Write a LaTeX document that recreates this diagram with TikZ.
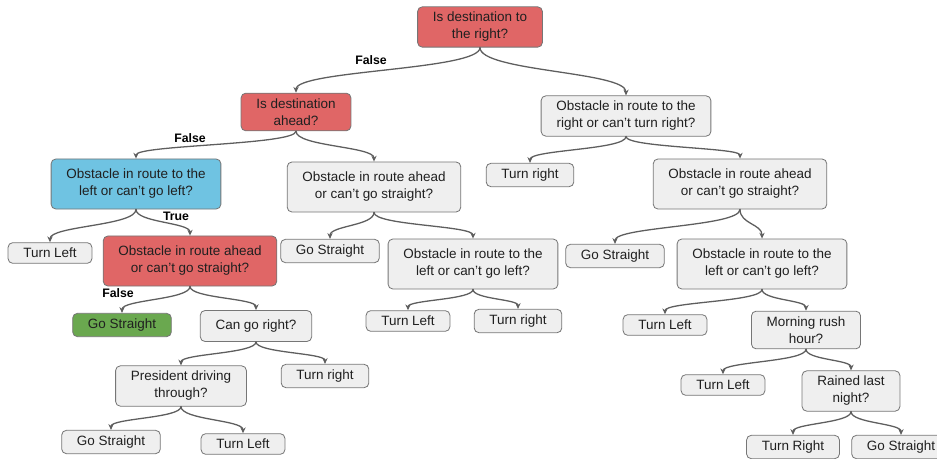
\documentclass[tikz,border=0pt]{standalone}
\usepackage{fontspec}
\setmainfont{Liberation Sans}
\usetikzlibrary{arrows.meta,calc}
\definecolor{boxred}{HTML}{E06666}
\definecolor{boxblue}{HTML}{6FC3E2}
\definecolor{boxgreen}{HTML}{6AA84F}
\definecolor{boxgray}{HTML}{EFEFEF}
\definecolor{boxline}{HTML}{767676}
\definecolor{linkgray}{HTML}{5E5E5E}
\definecolor{txt}{HTML}{202020}
\begin{document}
\begin{tikzpicture}[x=0.03cm, y=-0.03cm, line join=round, line cap=round, >={Stealth[length=5pt,width=4.5pt]},
	box/.style={draw=boxline, fill=boxgray, rounded corners=4pt, line width=0.7pt, align=center, inner xsep=13pt, inner ysep=4.6pt, text=txt, font=\fontsize{11.5}{14.5}\selectfont},
	tall/.style={box, minimum height=1.5cm},
	redbox/.style={fill=boxred},
	bluebox/.style={fill=boxblue},
	greenbox/.style={fill=boxgreen},
	link/.style={->, draw=linkgray, line width=1.1pt, to path={let \p1=(\tikztostart), \p2=(\tikztotarget), \p3=($(\tikztostart)!0.5!(\tikztotarget)$) in .. controls (\x1,\y3) and (\x2,\y3) .. (\tikztotarget) \tikztonodes}},
	tag/.style={text=black, font=\fontsize{10.5}{12}\selectfont\bfseries}]
	\useasboundingbox (0,0) rectangle (937,459);
	\node[box, redbox] (root) at (480,27) {Is destination to\\the right?};
	\node[box, redbox] (ahead) at (296,112) {Is destination\\ahead?};
	\node[box] (rightobs) at (626,116) {Obstacle in route to the\\right or can’t turn right?};
	\node[tall, bluebox] (leftobs) at (136,184) {Obstacle in route to the\\left or can’t go left?};
	\node[tall] (aheadobs) at (374,187) {Obstacle in route ahead\\or can’t go straight?};
	\node[box] (turnRa) at (530,175) {Turn right};
	\node[tall] (aheadobsR) at (740,184) {Obstacle in route ahead\\or can’t go straight?};
	\node[box] (turnLa) at (50,253) {Turn Left};
	\node[tall, redbox] (aheadobsL) at (190,261) {Obstacle in route ahead\\or can’t go straight?};
	\node[box] (goSa) at (330,251) {Go Straight};
	\node[tall] (leftobsM) at (473,264) {Obstacle in route to the\\left or can’t go left?};
	\node[box] (goSb) at (615,256) {Go Straight};
	\node[tall] (leftobsR) at (762,264) {Obstacle in route to the\\left or can’t go left?};
	\node[box, greenbox] (goGreen) at (122,325) {Go Straight};
	\node[box, minimum height=0.93cm] (canright) at (256,326) {Can go right?};
	\node[box] (turnLb) at (408,321) {Turn Left};
	\node[box] (turnRb) at (518,321) {Turn right};
	\node[box] (turnLc) at (665,325) {Turn Left};
	\node[box] (rush) at (806,330) {Morning rush\\hour?};
	\node[box] (president) at (181,386) {President driving\\through?};
	\node[box] (turnRc) at (325,376) {Turn right};
	\node[box] (turnLd) at (723,385) {Turn Left};
	\node[box] (rained) at (851,391) {Rained last\\night?};
	\node[box] (goSc) at (111,442) {Go Straight};
	\node[box] (turnLe) at (243,444) {Turn Left};
	\node[box] (turnRd) at (793,447) {Turn Right};
	\node[box] (goSd) at (901,447) {Go Straight};
	\draw[link] (root.south) to (ahead.north);
	\draw[link] (root.south) to (rightobs.north);
	\draw[link] (ahead.south) to (leftobs.north);
	\draw[link] (ahead.south) to (aheadobs.north);
	\draw[link] (rightobs.south) to (turnRa.north);
	\draw[link] (rightobs.south) to (aheadobsR.north);
	\draw[link] (leftobs.south) to (turnLa.north);
	\draw[link] (leftobs.south) to (aheadobsL.north);
	\draw[link] (aheadobs.south) to (goSa.north);
	\draw[link] (aheadobs.south) to (leftobsM.north);
	\draw[link] (aheadobsR.south) to (goSb.north);
	\draw[link] (aheadobsR.south) to (leftobsR.north);
	\draw[link] (aheadobsL.south) to (goGreen.north);
	\draw[link] (aheadobsL.south) to (canright.north);
	\draw[link] (leftobsM.south) to (turnLb.north);
	\draw[link] (leftobsM.south) to (turnRb.north);
	\draw[link] (leftobsR.south) to (turnLc.north);
	\draw[link] (leftobsR.south) to (rush.north);
	\draw[link] (canright.south) to (president.north);
	\draw[link] (canright.south) to (turnRc.north);
	\draw[link] (rush.south) to (turnLd.north);
	\draw[link] (rush.south) to (rained.north);
	\draw[link] (president.south) to (goSc.north);
	\draw[link] (president.south) to (turnLe.north);
	\draw[link] (rained.south) to (turnRd.north);
	\draw[link] (rained.south) to (goSd.north);
	\node[tag] (falseA) at (371,60) {False};
	\node[tag] (falseB) at (190,138) {False};
	\node[tag] (trueA) at (176,216) {True};
	\node[tag] (falseC) at (118,293) {False};
\end{tikzpicture}
\end{document}
